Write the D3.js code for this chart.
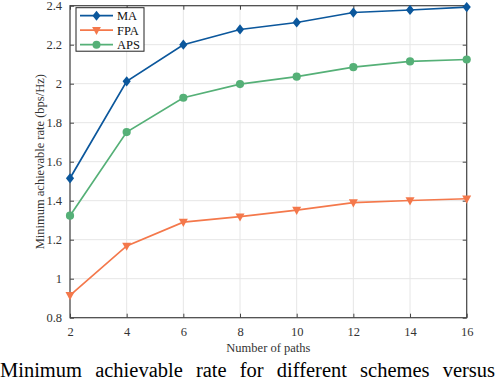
<!DOCTYPE html>
<html>
<head>
<meta charset="utf-8">
<script src="https://cdn.jsdelivr.net/npm/d3@7"></script>
<style>
  body { margin: 0; background: #fff; }
  svg { display: block; font-family: "Liberation Serif", "Times New Roman", serif; }
</style>
</head>
<body>
<svg id="chart" width="500" height="380"></svg>
<script>
const paths = [2, 4, 6, 8, 10, 12, 14, 16];
const maRate = [1.515, 2.012, 2.200, 2.278, 2.314, 2.365, 2.378, 2.393];
const fpaRate = [0.915, 1.168, 1.290, 1.318, 1.352, 1.390, 1.401, 1.410];
const apsRate = [1.323, 1.752, 1.928, 1.998, 2.036, 2.085, 2.114, 2.124];
const xTicks = [2, 4, 6, 8, 10, 12, 14, 16];
const yTicks = [0.8, 1, 1.2, 1.4, 1.6, 1.8, 2, 2.2, 2.4];

const series = [
  {name: 'MA', values: maRate, color: '#0b579c', marker: 'diamond'},
  {name: 'FPA', values: fpaRate, color: '#f4784b', marker: 'tri'},
  {name: 'APS', values: apsRate, color: '#55b077', marker: 'circle'}
];

const margin = {top: 5.7, right: 33.3, bottom: 62.3, left: 70},
  width = 500 - margin.left - margin.right,
  height = 380 - margin.top - margin.bottom;

const svg = d3.select('#chart');
const chart = svg.append('g')
  .attr('transform', `translate(${margin.left},${margin.top})`);

const x = d3.scaleLinear().domain([2, 16]).range([0, width]);
const y = d3.scaleLinear().domain([0.8, 2.4]).range([height, 0]);

// grid
chart.append('g').selectAll('line').data(xTicks).enter().append('line')
  .attr('x1', d => x(d)).attr('x2', d => x(d))
  .attr('y1', 0).attr('y2', height)
  .attr('stroke', '#e6e6e6').attr('stroke-width', 1);
chart.append('g').selectAll('line').data(yTicks).enter().append('line')
  .attr('x1', 0).attr('x2', width)
  .attr('y1', d => y(d)).attr('y2', d => y(d))
  .attr('stroke', '#e6e6e6').attr('stroke-width', 1);

// axes, ticks inward, box
const fmt = d => d3.format('')(+d.toFixed(1));
const axisColor = '#444';
function styleAxis(g) {
  g.select('.domain').remove();
  g.attr('font-family', null).attr('font-size', null);
  g.selectAll('line').attr('stroke', axisColor);
  g.selectAll('text').attr('fill', '#333').style('font-size', '12.5px');
}
chart.append('g')
  .attr('transform', `translate(0,${height})`)
  .call(d3.axisBottom(x).tickValues(xTicks).tickSize(-4).tickPadding(9).tickFormat(fmt))
  .call(styleAxis);
chart.append('g')
  .call(d3.axisLeft(y).tickValues(yTicks).tickSize(-4).tickPadding(8).tickFormat(fmt))
  .call(styleAxis);
chart.append('g')
  .call(d3.axisTop(x).tickValues(xTicks).tickSize(-4).tickFormat(''))
  .call(styleAxis);
chart.append('g')
  .attr('transform', `translate(${width},0)`)
  .call(d3.axisRight(y).tickValues(yTicks).tickSize(-4).tickFormat(''))
  .call(styleAxis);
chart.append('rect')
  .attr('width', width).attr('height', height)
  .attr('fill', 'none').attr('stroke', axisColor).attr('stroke-width', 1.2);

// markers
function drawMarker(g, type, color, size) {
  if (type === 'diamond') {
    g.append('path').attr('d', `M0,${-size * 1.25}L${size},0L0,${size * 1.25}L${-size},0Z`).attr('fill', color);
  } else if (type === 'tri') {
    g.append('path').attr('d', `M${-size * 1.1},${-size * 0.8}L${size * 1.1},${-size * 0.8}L0,${size * 1.2}Z`).attr('fill', color);
  } else {
    g.append('circle').attr('r', size).attr('fill', color);
  }
}

const line = d3.line().x((d, i) => x(paths[i])).y(d => y(d));
series.forEach(s => {
  chart.append('path')
    .datum(s.values)
    .attr('fill', 'none')
    .attr('stroke', s.color)
    .attr('stroke-width', 1.7)
    .attr('d', line);
  chart.selectAll('.m-' + s.name)
    .data(s.values)
    .enter().append('g')
    .attr('class', 'm-' + s.name)
    .attr('transform', (d, i) => `translate(${x(paths[i])},${y(d)})`)
    .each(function() { drawMarker(d3.select(this), s.marker, s.color, 4.1); });
});

// legend
const legend = chart.append('g').attr('transform', 'translate(6,2)');
legend.append('rect')
  .attr('width', 68).attr('height', 43.5)
  .attr('fill', '#fff').attr('stroke', '#222').attr('stroke-width', 1);
series.forEach((s, i) => {
  const row = legend.append('g').attr('transform', `translate(0,${8 + i * 14.5})`);
  row.append('line').attr('x1', 4).attr('x2', 37).attr('stroke', s.color).attr('stroke-width', 1.7);
  const m = row.append('g').attr('transform', 'translate(20.5,0)');
  drawMarker(m, s.marker, s.color, 4);
  row.append('text').attr('x', 41).attr('y', 4.5)
    .style('font-size', '12.5px').attr('fill', '#111').text(s.name);
});

// axis labels
svg.append('text')
  .attr('x', margin.left + width / 2).attr('y', 352)
  .attr('text-anchor', 'middle')
  .style('font-size', '12.5px').attr('fill', '#333')
  .text('Number of paths');
svg.append('text')
  .attr('transform', `translate(44,${margin.top + height / 2}) rotate(-90)`)
  .attr('text-anchor', 'middle')
  .style('font-size', '12.5px').attr('fill', '#333')
  .text('Minimum achievable rate (bps/Hz)');

// caption, justified line clipped by the window
svg.append('text')
  .attr('x', 0).attr('y', 377)
  .style('font-size', '20.5px').style('word-spacing', '8px').attr('fill', '#000')
  .text('Minimum achievable rate for different schemes versus');
</script>
</body>
</html>
